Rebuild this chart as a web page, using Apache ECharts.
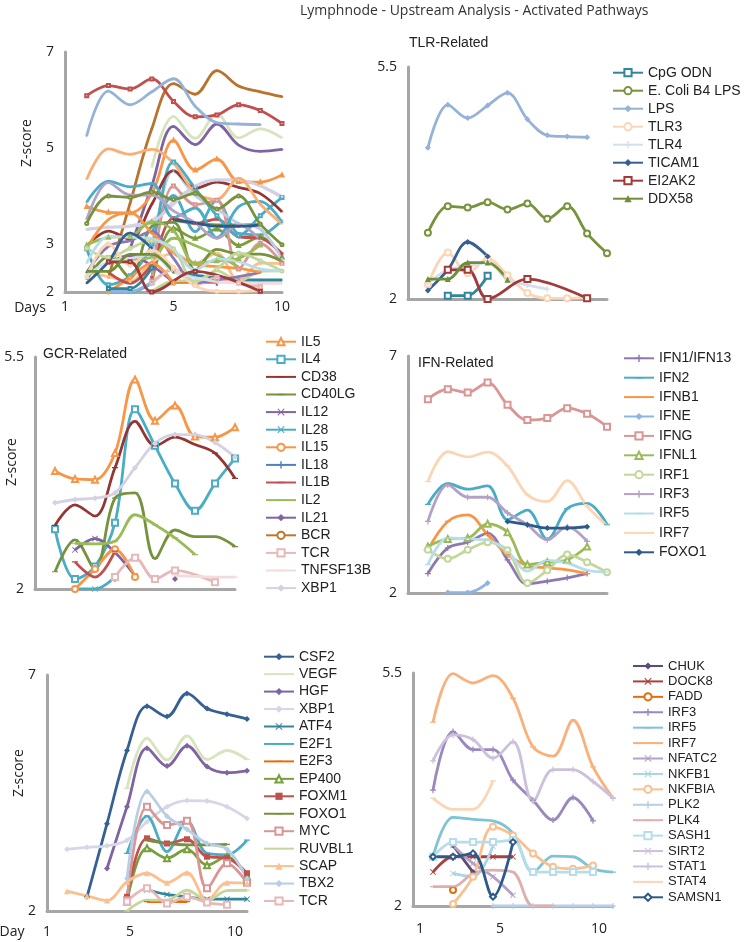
<!DOCTYPE html>
<html><head><meta charset="utf-8">
<script src="https://cdn.jsdelivr.net/npm/echarts@6/dist/echarts.min.js"></script>
<style>html,body{margin:0;padding:0;background:#fff}#c{width:745px;height:942px}</style>
</head><body><div id="c"></div>
<script>
// ---------------- DATA ----------------
const xValues = [1,2,3,4,5,6,7,8,9,10];
const xTickLabels = ['1','5','10'];
const yTicksA = [2,3,5,7];
const yTicks55 = [2,5.5];
const yTicks7 = [2,7];

// TLR-Related
const tlrNames = ['CpG ODN','E. Coli B4 LPS','LPS','TLR3','TLR4','TICAM1','EI2AK2','DDX58'];
const tlrValues = [
  [null,2.05,2.05,2.35,null,null,null,null,null,null],
  [3.00,3.40,3.38,3.46,3.35,3.44,3.21,3.40,2.99,2.69],
  [4.28,4.93,4.73,4.92,5.11,4.71,4.47,4.45,4.44,null],
  [2.22,2.70,2.39,2.61,2.36,2.09,2.01,2.01,2.02,null],
  [2.23,2.44,2.49,2.55,2.29,2.21,2.15,null,null,null],
  [2.13,2.44,2.86,2.64,null,null,null,null,null,null],
  [null,2.44,2.44,2.00,null,2.30,null,null,2.01,null],
  [2.30,2.30,2.55,2.55,2.29,null,null,null,null,null]
];
// GCR-Related
const gcrNames = ['IL5','IL4','CD38','CD40LG','IL12','IL28','IL15','IL18','IL1B','IL2','IL21','BCR','TCR','TNFSF13B','XBP1'];
const gcrValues = [
  [3.78,3.66,3.65,4.05,5.16,4.54,4.77,4.30,4.29,4.44],
  [2.90,2.15,2.34,3.00,4.71,4.16,3.59,3.18,3.59,3.97],
  [2.96,3.27,3.10,3.83,4.53,4.16,4.29,4.18,4.05,3.67],
  [2.26,2.74,2.30,3.37,3.45,2.46,2.89,2.79,2.79,2.64],
  [null,2.59,2.76,2.55,2.20,null,null,null,null,null],
  [null,2.00,2.00,2.18,null,null,null,null,null,null],
  [null,2.00,2.30,2.60,2.18,null,null,null,null,null],
  [null,null,null,2.15,null,null,null,null,null,null],
  [null,2.41,2.18,2.57,null,null,null,null,null,null],
  [null,2.69,2.68,2.72,3.12,2.97,2.77,2.52,null,null],
  [null,null,null,null,null,null,2.15,null,null,null],
  [null,null,null,null,null,null,null,null,null,null],
  [null,null,null,2.18,2.47,2.15,2.28,null,2.10,null],
  [null,null,null,null,null,null,2.20,2.19,2.18,2.18],
  [3.30,3.35,3.37,3.45,3.83,4.20,4.33,4.33,4.21,3.99]
];
// IFN-Related
const ifnNames = ['IFN1/IFN13','IFN2','IFNB1','IFNE','IFNG','IFNL1','IRF1','IRF3','IRF5','IRF7','FOXO1'];
const ifnValues = [
  [2.41,2.95,3.07,3.26,2.70,2.19,2.25,2.32,2.41,null],
  [3.87,4.31,4.19,4.26,3.55,3.75,3.13,3.78,3.89,3.45],
  [2.91,3.51,3.65,3.23,2.81,2.58,2.53,2.49,2.41,null],
  [null,2.01,2.01,2.21,null,null,null,null,null,null],
  [6.09,6.30,6.23,6.44,5.97,5.65,5.69,5.90,5.78,5.51],
  [2.98,3.14,3.16,3.46,3.28,2.60,2.65,2.70,2.98,null],
  [2.91,2.72,2.91,3.07,2.90,2.21,2.48,2.81,2.65,2.44],
  [3.51,4.28,4.02,4.02,3.69,3.44,3.12,3.40,3.09,null],
  [2.60,3.16,3.14,3.11,2.88,2.46,2.69,2.63,2.48,2.44],
  [4.35,4.98,4.87,4.97,4.68,4.07,3.93,4.37,3.83,3.42],
  [null,null,null,null,3.51,3.44,3.37,3.37,3.40,null]
];
// Growth-factor panel (bottom left)
const gfNames = ['CSF2','VEGF','HGF','XBP1','ATF4','E2F1','E2F3','EP400','FOXM1','FOXO1','MYC','RUVBL1','SCAP','TBX2','TCR'];
const gfValues = [
  [null,2.30,3.85,5.40,6.34,6.12,6.61,6.29,6.17,6.07],
  [null,null,null,4.60,5.66,5.20,5.71,5.21,5.40,5.21],
  [null,null,2.90,4.21,5.45,5.07,5.50,5.06,4.93,4.97],
  [3.31,3.35,3.38,3.50,3.89,4.21,4.34,4.33,4.21,3.96],
  [null,null,null,null,2.45,2.35,2.30,2.25,2.25,2.25],
  [null,null,null,3.22,4.01,3.26,3.91,3.22,3.19,3.50],
  [null,null,null,null,2.20,2.20,2.20,null,null,null],
  [null,null,null,2.20,3.33,3.12,3.31,2.97,3.15,2.73],
  [null,null,null,2.30,3.54,3.43,3.52,3.15,3.12,2.80],
  [null,null,null,null,3.50,3.43,3.40,3.40,3.41,null],
  [null,null,null,2.23,4.21,3.82,3.91,2.48,3.01,2.60],
  [null,null,null,2.00,2.23,2.23,2.44,2.23,2.43,2.44],
  [2.42,2.32,2.22,2.62,2.80,2.60,2.81,2.23,2.60,2.59],
  [null,null,null,2.69,4.53,4.01,3.73,3.43,3.31,2.69],
  [null,null,null,2.20,2.48,2.16,2.30,2.18,2.13,null]
];
// NF-kB panel (bottom right)
const nfNames = ['CHUK','DOCK8','FADD','IRF3','IRF5','IRF7','NFATC2','NKFB1','NKFBIA','PLK2','PLK4','SASH1','SIRT2','STAT1','STAT4','SAMSN1'];
const nfValues = [
  [null,2.91,2.51,null,null,null,null,null,null,null],
  [2.51,2.74,2.74,2.74,2.74,null,null,null,null,null],
  [null,2.24,null,null,null,null,null,null,null,null],
  [3.74,4.62,4.35,4.35,3.89,3.59,3.29,3.63,3.28,null],
  [2.74,3.33,3.30,3.28,3.09,2.51,2.75,2.74,2.56,2.51],
  [4.76,5.49,5.35,5.46,5.12,4.39,4.25,4.79,4.09,3.62],
  [null,2.91,2.64,2.44,2.16,null,null,null,null,null],
  [null,2.49,2.44,2.90,null,null,null,null,null,null],
  [null,2.03,2.44,3.19,3.06,2.79,2.59,2.56,2.61,null],
  [null,null,null,2.00,2.00,2.00,2.00,2.00,2.00,2.00],
  [2.29,2.29,2.49,2.54,2.51,2.00,2.00,null,null,null],
  [2.74,2.96,2.96,2.96,2.99,2.51,2.51,2.51,2.51,null],
  [null,null,null,null,null,null,null,null,null,null],
  [4.18,4.57,4.50,4.22,4.47,3.57,4.05,4.05,3.87,3.62],
  [3.62,3.45,3.45,3.88,null,null,null,null,null,null],
  [2.74,2.74,2.79,2.14,2.96,null,null,null,null,null]
];

// ---------------- STYLES ----------------
const SYM = {
  plus: 'path://M4,0H6V4H10V6H6V10H4V6H0V4H4Z',
  x: 'path://M0,1L1,0L5,4L9,0L10,1L6,5L10,9L9,10L5,6L1,10L0,9L4,5Z',
  dash: 'path://M0,0L0.01,0L0,0ZM0,4H10V6H0ZM10,10L9.99,10L10,10Z'
};
const tlrStyle = {
  colors: ['#31859C','#77933C','#95B3D7','#FCD5B5','#D5DFEC','#376092','#A03B39','#6E8F35'],
  symbols: ['emptyRect','emptyCircle','diamond','emptyCircle',SYM.plus,'diamond','emptyRect','triangle']
};
const gcrStyle = {
  colors: ['#F79646','#4BACC6','#943634','#76923C','#8064A2','#4BACC6','#F79646','#4F81BD','#C0504D','#9BBB59','#8064A2','#C0772A','#E6B9B8','#F2DCDB','#D4D2E2'],
  symbols: ['emptyTriangle','emptyRect',SYM.dash,SYM.dash,SYM.x,SYM.x,'emptyCircle',SYM.plus,SYM.dash,SYM.dash,'diamond','emptyCircle','emptyRect',SYM.dash,'diamond']
};
const ifnStyle = {
  colors: ['#8E78B4','#4BACC6','#F79646','#8DB4E2','#D99694','#9BBB59','#C3D69B','#B3A2C7','#B7DEE8','#FCD5B5','#2E5A8A'],
  symbols: [SYM.plus,SYM.dash,SYM.dash,'diamond','emptyRect','emptyTriangle','emptyCircle',SYM.plus,SYM.dash,SYM.dash,'diamond']
};
const gfStyle = {
  colors: ['#376092','#D7E4BD','#8064A2','#D8D6E6','#31859C','#4BACC6','#E46C0A','#77A03C','#C0504D','#76923C','#D99694','#C3D69B','#FAC090','#B9CDE5','#E6B9B8'],
  symbols: ['diamond',SYM.dash,'diamond','diamond',SYM.x,SYM.dash,SYM.dash,'emptyTriangle','rect',SYM.dash,'emptyRect',SYM.dash,'triangle','diamond','emptyRect']
};
const nfStyle = {
  colors: ['#5F497A','#A9403D','#E46C0A','#9A88BE','#7FC4D6','#FAB07A','#B3A2C7','#A8D6E2','#FAC090','#B9CDE5','#DDB0AF','#B7DEE8','#CCC1DA','#CCC1DA','#FCD5B5','#2E5A8A'],
  symbols: ['diamond',SYM.x,'emptyCircle',SYM.plus,SYM.dash,SYM.dash,SYM.x,SYM.x,'emptyCircle',SYM.plus,SYM.dash,'emptyRect',SYM.x,SYM.plus,SYM.dash,'emptyDiamond']
};
const aColorOverride = {'D|IFNG':'#C0504D','E|CSF2':'#B8732E','D|IRF7':'#F9AE74'};

const panels = {
  B: {names: tlrNames, values: tlrValues, style: tlrStyle},
  C: {names: gcrNames, values: gcrValues, style: gcrStyle},
  D: {names: ifnNames, values: ifnValues, style: ifnStyle},
  E: {names: gfNames, values: gfValues, style: gfStyle},
  F: {names: nfNames, values: nfValues, style: nfStyle}
};

// layout: grid [left, top, width, height]; legend [left, top, gap, fontSize]
const layout = [
  {id:'A', grid:[65,52,217,240], yMax:7, yTicks:yTicksA, xLabelPos:[0,5,10], xMargin:8},
  {id:'B', grid:[408,67,199,232], yMax:5.5, yTicks:yTicks55, legend:[612,65.7,4,14]},
  {id:'C', grid:[35,357,200,232], yMax:5.5, yTicks:yTicks55, legend:[265,334.7,3.6,14]},
  {id:'D', grid:[408,356,199,237], yMax:7, yTicks:yTicks7, legend:[623,351.3,5.4,14]},
  {id:'E', grid:[47,675,200,236], yMax:7, yTicks:yTicks7, xLabelPos:[0,4.15,9.4], xMargin:14, legend:[263,649.7,3.45,14]},
  {id:'F', grid:[413,673,200,233], yMax:5.5, yTicks:yTicks55, xLabelPos:[0.35,4.35,9.3], xMargin:16, legend:[632,659.5,2.42,13]}
];

// ---------------- BUILD ----------------
const AXIS_COLOR = '#A6A6A6';
const LABEL_FONT = '"Open Sans", "DejaVu Sans", sans-serif';
const LEGEND_FONT = '"Liberation Sans", Arial, sans-serif';

function toData(arr){ return arr.map((v,i)=> v==null ? null : [xValues[i], v]).filter(d=>d); }

const grids = [], xAxes = [], yAxes = [], legends = [], series = [];
layout.forEach((L, k) => {
  grids.push({left:L.grid[0], top:L.grid[1], width:L.grid[2], height:L.grid[3], outerBoundsMode:'none'});
  const pos = L.xLabelPos;
  xAxes.push({
    type:'value', gridIndex:k, min:0, max:10,
    axisLine:{onZero:false, lineStyle:{color:AXIS_COLOR, width:3}},
    axisTick:{show:false}, splitLine:{show:false},
    axisLabel: pos ? {
      show:true, customValues:pos, margin:L.xMargin, fontSize:14, color:'#222', fontFamily:LABEL_FONT,
      formatter: v => xTickLabels[pos.indexOf(v)] || ''
    } : {show:false}
  });
  yAxes.push({
    type:'value', gridIndex:k, min:2, max:L.yMax,
    axisLine:{show:true, onZero:false, lineStyle:{color:AXIS_COLOR, width:3}},
    axisTick:{show:false}, splitLine:{show:false},
    axisLabel:{customValues:L.yTicks, margin:11, fontSize:14, color:'#222', fontFamily:LABEL_FONT,
      formatter: v => String(v)}
  });
  if (L.legend) {
    const P = panels[L.id];
    legends.push({
      orient:'vertical', left:L.legend[0], top:L.legend[1], itemGap:L.legend[2],
      itemWidth:30, itemHeight:9, padding:0, selectedMode:false,
      data: P.names.map(n => L.id + '|' + n),
      formatter: n => n.split('|')[1],
      textStyle:{fontSize:L.legend[3], color:'#222', fontFamily:LEGEND_FONT}
    });
  }
});
// secondary hidden y axis in panel A for TLR lines (their own 2–5.5 scale)
yAxes.push({type:'value', gridIndex:0, min:2, max:5.5, show:false});

function addSeries(pid, gridIdx, yIdx, forA){
  const P = panels[pid];
  P.names.forEach((n, i) => {
    const key = pid + '|' + n;
    const color = forA && aColorOverride[key] ? aColorOverride[key] : P.style.colors[i];
    series.push({
      type:'line', name: forA ? 'A|' + key : key,
      xAxisIndex:gridIdx, yAxisIndex:yIdx,
      data: toData(P.values[i]),
      smooth:0.35, connectNulls:true,
      symbol: P.style.symbols[i], symbolSize: forA ? 3 : 6,
      showSymbol: true,
      lineStyle:{width: forA ? 2.8 : 2.8, color},
      itemStyle:{color, borderWidth:1.5},
      emphasis:{disabled:true}, silent:true
    });
  });
}
// Panel A overlays all genes
addSeries('E',0,0,true);
addSeries('C',0,0,true);
addSeries('D',0,0,true);
addSeries('B',0,6,true);
// individual panels
addSeries('B',1,1,false);
addSeries('C',2,2,false);
addSeries('D',3,3,false);
addSeries('E',4,4,false);
addSeries('F',5,5,false);

const titleStyle = {fontSize:14, fontWeight:'normal', color:'#222', fontFamily:LEGEND_FONT};
const option = {
  animation:false,
  backgroundColor:'#fff',
  title:[
    {text:'Lymphnode - Upstream Analysis - Activated Pathways', left:300, top:4, padding:0,
     textStyle:{fontSize:14, fontWeight:'normal', color:'#333', fontFamily:LABEL_FONT}},
    {text:'TLR-Related', left:409, top:36, padding:0, textStyle:titleStyle},
    {text:'GCR-Related', left:43, top:347, padding:0, textStyle:titleStyle},
    {text:'IFN-Related', left:418, top:356, padding:0, textStyle:titleStyle}
  ],
  grid:grids, xAxis:xAxes, yAxis:yAxes, legend:legends, series,
  graphic:[
    {type:'text', x:27, y:143, rotation:Math.PI/2, style:{text:'Z-score', font:'14px ' + LABEL_FONT, fill:'#222', align:'center', verticalAlign:'middle'}},
    {type:'text', x:30, y:308, style:{text:'Days', font:'14px ' + LABEL_FONT, fill:'#222', align:'center', verticalAlign:'middle'}},
    {type:'text', x:12, y:462, rotation:Math.PI/2, style:{text:'Z-score', font:'14px ' + LABEL_FONT, fill:'#222', align:'center', verticalAlign:'middle'}},
    {type:'text', x:19, y:773, rotation:Math.PI/2, style:{text:'Z-score', font:'14px ' + LABEL_FONT, fill:'#222', align:'center', verticalAlign:'middle'}},
    {type:'text', x:12, y:932, style:{text:'Day', font:'14px ' + LABEL_FONT, fill:'#222', align:'center', verticalAlign:'middle'}}
  ]
};
const chart = echarts.init(document.getElementById('c'), null, {renderer:'canvas'});
chart.setOption(option);
</script></body></html>
